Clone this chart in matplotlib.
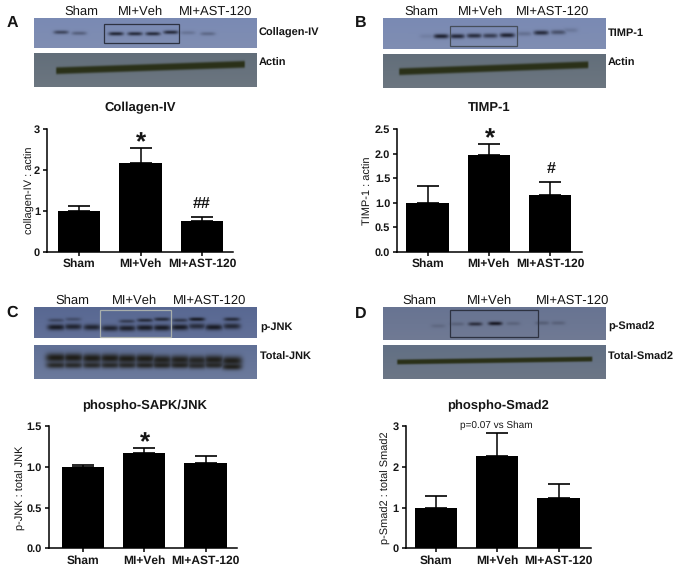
import numpy as np
import matplotlib
matplotlib.use("Agg")
import matplotlib.pyplot as plt
from matplotlib.patches import Rectangle

plt.rcParams['font.family'] = ['Liberation Sans', 'DejaVu Sans']
plt.rcParams['text.hinting'] = 'none'
plt.rcParams['text.hinting_factor'] = 1

# ---------- data ----------
groups = ['Sham', 'MI+Veh', 'MI+AST-120']

collagen_mean = [1.00, 2.17, 0.75]
collagen_err = [0.12, 0.37, 0.11]
timp_mean = [1.00, 1.98, 1.15]
timp_err = [0.35, 0.22, 0.28]
jnk_mean = [1.00, 1.17, 1.05]
jnk_err = [0.03, 0.06, 0.08]
smad_mean = [1.00, 2.28, 1.23]
smad_err = [0.28, 0.55, 0.35]

# relative band intensities, lane by lane
collagen_bands = [0.65, 0.40, 0.0, 0.95, 0.90, 0.90, 0.90, 0.22, 0.32]
timp_bands = [0.12, 1.0, 0.95, 0.90, 0.75, 1.0, 0.25, 0.90, 0.55, 0.18]
pjnk_lower = [0.95, 0.85, 0.85, 0.85, 0.90, 0.95, 0.95, 0.95, 0.75, 0.95, 0.80]
pjnk_upper = [0.40, 0.35, 0.00, 0.00, 0.55, 0.75, 0.75, 0.60, 0.95, 0.00, 0.75]
tjnk_upper = [1.0, 1.0, 1.0, 1.0, 1.0, 1.0, 0.95, 0.95, 0.9, 0.97, 0.97]
tjnk_lower = [0.85, 0.85, 0.85, 0.85, 0.85, 0.9, 0.9, 0.9, 0.8, 0.85, 0.95]
psmad_bands = [0.15, 0.22, 0.75, 1.00, 0.20, 0.25, 0.22]

# ---------- layout (pixels) ----------
W, H = 683, 570
fig = plt.figure(figsize=(W / 100, H / 100), dpi=100)
fig.patch.set_facecolor('white')
TXT = '#151515'


def rect(x0, y0, x1, y1):
    return [x0 / W, 1 - y1 / H, (x1 - x0) / W, (y1 - y0) / H]


def put(x, y, s, **kw):
    kw.setdefault('ha', 'center')
    kw.setdefault('va', 'center')
    kw.setdefault('color', TXT)
    fig.text(x / W, 1 - y / H, s, **kw)


def new_canvas(x0, y0, x1, y1, bg_top, bg_bot):
    ny, nx = int((y1 - y0) * 2), int((x1 - x0) * 2)
    t = np.linspace(0, 1, ny)[:, None, None]
    img = np.array(bg_top)[None, None, :] * (1 - t) + np.array(bg_bot)[None, None, :] * t
    img = np.repeat(img, nx, axis=1)
    xs = np.linspace(x0, x1, nx)
    ys = np.linspace(y0, y1, ny)
    return img, np.meshgrid(xs, ys)


def add_lanes(img, grid, lanes, vals, ys, sy, sx, col):
    X, Y = grid
    a = np.zeros(X.shape)
    for xc, yc, v in zip(lanes, ys, vals):
        a = np.maximum(a, v * np.exp(-((X - xc) / sx) ** 4) * np.exp(-((Y - yc) / sy) ** 2))
    a = a[..., None]
    return img * (1 - a) + np.array(col) * a


def add_smear(img, grid, x0, x1, y0, y1, sy, col):
    X, Y = grid
    yc = y0 + (y1 - y0) * (X - x0) / (x1 - x0)
    a = np.exp(-((Y - yc) / sy) ** 4) * np.clip((X - x0) / 2, 0, 1) * np.clip((x1 - X) / 2, 0, 1)
    a = a[..., None]
    return img * (1 - a) + np.array(col) * a


def show(img, x0, y0, x1, y1):
    ax = fig.add_axes(rect(x0, y0, x1, y1))
    ax.imshow(np.clip(img, 0, 255).astype(np.uint8), aspect='auto', interpolation='bilinear')
    ax.axis('off')


def box(x0, y0, x1, y1, col):
    ov = fig.add_axes([0, 0, 1, 1], facecolor='none')
    ov.set_xlim(0, W)
    ov.set_ylim(H, 0)
    ov.axis('off')
    ov.add_patch(Rectangle((x0, y0), x1 - x0, y1 - y0, fill=False,
                           ec=tuple(c / 255 for c in col), lw=0.9))


BLUE_T, BLUE_B = (122, 138, 180), (128, 142, 178)
GREY_T, GREY_B = (98, 110, 122), (108, 118, 128)
ACTIN = (42, 48, 24)
BAND = (34, 38, 54)

# Panel A blots
bx = (34, 257)
img, g = new_canvas(bx[0], 18, bx[1], 48.5, BLUE_T, BLUE_B)
lanes = [61, 79, 97, 116, 135, 153, 171, 188, 208]
img = add_lanes(img, g, lanes, collagen_bands, [33, 34, 33, 34.5, 34.5, 34.5, 33, 33.5, 34.5], 1.9, 7.5, BAND)
show(img, bx[0], 18, bx[1], 48.5)
img, g = new_canvas(bx[0], 52.5, bx[1], 87, GREY_T, GREY_B)
img = add_smear(img, g, 55, 246, 71, 64.5, 3.6, ACTIN)
show(img, bx[0], 52.5, bx[1], 87)
box(103.7, 24.3, 179, 42.7, (45, 50, 65))

# Panel B blots
bx = (383, 605.5)
img, g = new_canvas(bx[0], 18, bx[1], 49.5, BLUE_T, BLUE_B)
lanes = [427, 441, 457, 474, 490, 507, 524, 541, 558, 570]
img = add_lanes(img, g, lanes, timp_bands, [37, 37, 37, 36.5, 36.5, 36, 34.5, 33.5, 33, 31], 2.3, 7.5, BAND)
show(img, bx[0], 18, bx[1], 49.5)
img, g = new_canvas(bx[0], 53.5, bx[1], 88, GREY_T, GREY_B)
img = add_smear(img, g, 398, 589, 72, 65, 3.6, ACTIN)
show(img, bx[0], 53.5, bx[1], 88)
box(449.7, 26, 517, 45.7, (70, 78, 90))

# Panel C blots
bx = (34, 257)
C_BLUE_T, C_BLUE_B = (88, 104, 146), (98, 112, 152)
lanes = [56, 73, 92, 110, 127, 145, 162, 180, 197, 214, 232]
img, g = new_canvas(bx[0], 307, bx[1], 338.5, C_BLUE_T, C_BLUE_B)
img = add_lanes(img, g, lanes, pjnk_upper, [321, 320, 321, 321, 322, 321, 320, 321, 320, 321, 320], 1.9, 8, (24, 26, 34))
img = add_lanes(img, g, lanes, pjnk_lower, [328, 327.5, 328, 329, 329, 328.5, 328.5, 328, 327, 328, 327], 3.0, 8.8, (24, 26, 34))
show(img, bx[0], 307, bx[1], 338.5)
img, g = new_canvas(bx[0], 344.5, bx[1], 379, (96, 112, 150), (108, 122, 156))
img = add_lanes(img, g, lanes, tjnk_upper, [358, 358, 358.5, 358.5, 359, 359, 360, 360, 360.5, 360, 361], 4.6, 10.5, (32, 31, 26))
img = add_lanes(img, g, lanes, tjnk_lower, [365.5] * 8 + [366, 365.5, 367], 3.2, 10, (32, 31, 26))
show(img, bx[0], 344.5, bx[1], 379)
box(100.3, 310.3, 171.3, 336.7, (168, 174, 172))

# Panel D blots
bx = (383, 605.5)
img, g = new_canvas(bx[0], 307, bx[1], 340, (104, 116, 146), (112, 122, 148))
lanes = [438, 457, 475, 495, 513, 542, 558]
img = add_lanes(img, g, lanes, psmad_bands, [326, 324, 324, 323.5, 323.5, 323, 323], 1.9, 7, (26, 26, 38))
show(img, bx[0], 307, bx[1], 340)
img, g = new_canvas(bx[0], 345, bx[1], 379, (98, 112, 132), (108, 118, 134))
img = add_smear(img, g, 396, 593, 362, 359, 2.6, ACTIN)
show(img, bx[0], 345, bx[1], 379)
box(449.7, 310.3, 537.7, 337, (45, 50, 65))


# ---------- bar charts ----------
def bars(x0, x1, y_top, y_bot, c0, means, errs, ymax, ticks, fmt, ylabel, ylab_x):
    ax = fig.add_axes(rect(x0, y_top, x1, y_bot))
    step, width = 61.35, 0.69
    ax.set_xlim((x0 - c0) / step, (x1 - c0) / step)
    ax.set_ylim(0, ymax)
    pos = np.arange(len(means))
    ax.bar(pos, means, width=width, color='black', zorder=3)
    ax.errorbar(pos, means, yerr=[np.zeros(len(errs)), errs], fmt='none', ecolor='black',
                elinewidth=1.1, capsize=7.8, capthick=1.2, zorder=2)
    ax.set_xticks(pos)
    ax.set_xticklabels(groups, fontsize=8.8, fontweight='bold', color=TXT)
    ax.set_yticks(ticks)
    ax.set_yticklabels([fmt.format(t) for t in ticks], fontsize=8, fontweight='bold', color=TXT)
    ax.tick_params(axis='both', width=1.1, length=3.2, pad=1.8)
    ax.tick_params(axis='x', pad=1.5)
    for s in ('top', 'right'):
        ax.spines[s].set_visible(False)
    for s in ('left', 'bottom'):
        ax.spines[s].set_linewidth(1.1)
    ax.patch.set_alpha(0)
    put(ylab_x, (y_top + y_bot) / 2 + 0, ylabel, rotation=90, fontsize=7.7)
    return ax


bars(47, 233, 129.3, 251.7, 79.2, collagen_mean, collagen_err, 3, [0, 1, 2, 3], '{:d}',
     'collagen-IV : actin', 29.5)
bars(397.3, 582.3, 129.3, 251.7, 427.5, timp_mean, timp_err, 2.5, [0, 0.5, 1, 1.5, 2, 2.5], '{:.1f}',
     'TIMP-1 : actin', 368)
bars(49, 236.7, 426.3, 548.3, 82.8, jnk_mean, jnk_err, 1.5, [0, 0.5, 1, 1.5], '{:.1f}',
     'p-JNK : total JNK', 21)
bars(405.7, 590.7, 426.3, 548.3, 435.8, smad_mean, smad_err, 3, [0, 1, 2, 3], '{:d}',
     'p-Smad2 : total Smad2', 386)

# ---------- texts ----------
for x, y, s in [(12, 23, 'A'), (361, 23, 'B'), (12, 312.5, 'C'), (361, 314, 'D')]:
    put(x, y, s, fontsize=11.5, fontweight='bold')

for x, y, s in [(140, 108, 'Collagen-IV'), (489.3, 108, 'TIMP-1'),
                (144.7, 406, 'phospho-SAPK/JNK'), (497.7, 406, 'phospho-Smad2')]:
    put(x, y, s, fontsize=9.3, fontweight='bold')

for xs, y in [((81, 140.7, 216), 12), ((421.7, 481, 553), 12),
              ((72, 135, 210), 301), ((419.7, 489.7, 572.3), 301)]:
    for x, s in zip(xs, groups):
        put(x, y, s, fontsize=9)

for x, y, s in [(259, 33, 'Collagen-IV'), (259, 63, 'Actin'), (608, 33, 'TIMP-1'), (608, 63, 'Actin'),
                (260, 327, 'p-JNK'), (260, 357, 'Total-JNK'), (608, 327, 'p-Smad2'), (608, 357, 'Total-Smad2')]:
    put(x, y, s, ha='left', fontsize=8.2, fontweight='bold')

for x, y in [(140.5, 143), (489.7, 139), (144.7, 443)]:
    put(x, y, '*', fontsize=19, fontweight='bold')
put(201.8, 204, '##', fontsize=11.5, fontweight='bold')
put(551.3, 169, '#', fontsize=11.5, fontweight='bold')
put(496.7, 425.7, 'p=0.07 vs Sham', fontsize=7.1)

fig.savefig('out.png', dpi=100)
